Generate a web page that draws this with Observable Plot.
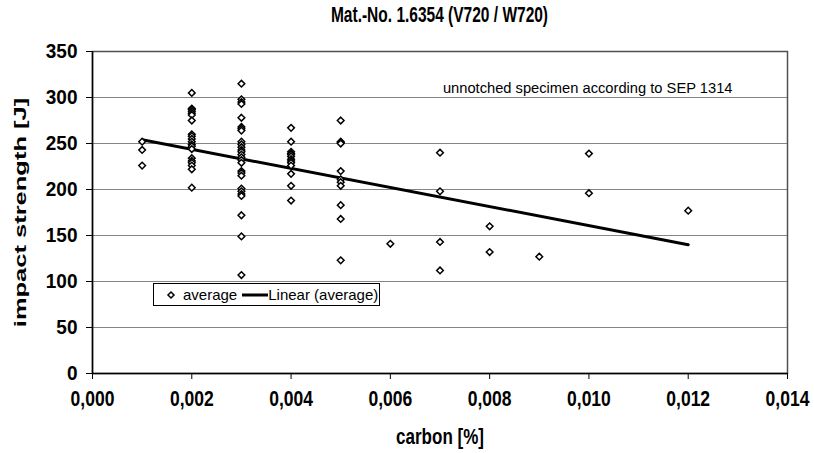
<!DOCTYPE html>
<html><head><meta charset="utf-8">
<script src="https://cdn.jsdelivr.net/npm/d3@7"></script>
<script src="https://cdn.jsdelivr.net/npm/@observablehq/plot@0.6"></script>
<style>
body{margin:0;background:#fff;font-family:"Liberation Sans",Arial,sans-serif;}
#wrap{position:relative;width:814px;height:453px;overflow:hidden;}
#title{height:36px;box-sizing:border-box;padding-top:5px;padding-left:65px;text-align:center;font-weight:bold;font-size:15.5px;line-height:20px;color:#000;}
#title span{display:inline-block;transform:scaleY(1.4);}
#legend{position:absolute;left:153px;top:283px;width:227px;height:23px;border:1.5px solid #000;background:#fff;box-sizing:border-box;font-size:15px;display:flex;align-items:center;color:#000;}
#legend span{white-space:nowrap;}
</style></head>
<body>
<div id="wrap">
  <div id="title"><span id="titleText"></span></div>
  <div id="chart"></div>
  <div id="legend">
    <svg width="14" height="10" style="margin-left:10px"><path d="M7,2 L10,5 L7,8 L4,5 Z" fill="#fff" stroke="#000" stroke-width="1.5"/></svg>
    <span id="lg1" style="margin-left:5px"></span>
    <svg width="26" height="10" style="margin-left:5px"><line x1="0" y1="5" x2="26" y2="5" stroke="#000" stroke-width="3"/></svg>
    <span id="lg2"></span>
  </div>
</div>
<script>
const title = "Mat.-No. 1.6354 (V720 / W720)";
const xLabel = "carbon [%]";
const yLabel = "impact strength [J]";
const annotation = "unnotched specimen according to SEP 1314";
const legendLabels = ["average", "Linear (average)"];

const carbonLevels = [0.001, 0.002, 0.003, 0.004, 0.005, 0.006, 0.007, 0.008, 0.009, 0.010, 0.012];
const strengthByLevel = [
  [252, 243, 226],
  [305, 288, 287, 285, 283, 281, 275, 260, 258, 255, 252, 249, 247, 244, 234, 231, 229, 226, 222, 202],
  [315, 298, 295, 293, 278, 268, 266, 264, 252, 249, 246, 243, 241, 238, 235, 232, 229, 220, 218, 215, 201, 198, 195, 193, 172, 149, 107],
  [267, 252, 241, 239, 238, 236, 233, 231, 229, 226, 217, 204, 188],
  [275, 252, 251, 250, 220, 211, 208, 204, 183, 168, 123],
  [141],
  [240, 198, 143, 112],
  [160, 132],
  [127],
  [239, 196],
  [177]
];
const trendCarbon = [0.001, 0.012];
const trendStrength = [254, 140];
const xTicks = [0, 0.002, 0.004, 0.006, 0.008, 0.010, 0.012, 0.014];
const yTicks = [0, 50, 100, 150, 200, 250, 300, 350];

document.getElementById("titleText").textContent = title;
document.getElementById("lg1").textContent = legendLabels[0];
document.getElementById("lg2").textContent = legendLabels[1];

const data = carbonLevels.flatMap((c, i) => strengthByLevel[i].map(v => ({carbon: c, strength: v})));
const trend = trendCarbon.map((c, i) => ({carbon: c, strength: trendStrength[i]}));

const plot = Plot.plot({
  width: 814, height: 417,
  marginTop: 15, marginBottom: 80, marginLeft: 92, marginRight: 27,
  style: {fontFamily: "'Liberation Sans', Arial, sans-serif", fontSize: "17px", fontWeight: "bold", color: "#000", background: "#fff"},
  x: {domain: [0, 0.014]},
  y: {domain: [0, 350]},
  marks: [
    Plot.gridY(yTicks.filter(t => t > 0 && t < 350), {stroke: "#858585", strokeOpacity: 1, strokeWidth: 1.2}),
    Plot.frame({stroke: "#505050", strokeWidth: 1.5}),
    Plot.ruleX([0], {stroke: "#000", strokeWidth: 1.5}),
    Plot.ruleY([0], {stroke: "#000", strokeWidth: 1.5}),
    Plot.axisX({ticks: xTicks, tickFormat: d => d.toFixed(3).replace(".", ","), tickSize: 6, tickPadding: 11, fontSize: 17.5, label: null}),
    Plot.axisY({ticks: yTicks, tickSize: 6, tickPadding: 9, fontSize: 19, label: null}),
    Plot.text([annotation], {frameAnchor: "top-right", dx: -55, dy: 31, textAnchor: "end", fontSize: 14.7, fontWeight: "normal"}),
    Plot.line(trend, {x: "carbon", y: "strength", stroke: "#000", strokeWidth: 3}),
    Plot.dot(data, {x: "carbon", y: "strength", symbol: "diamond2", r: 3, stroke: "#000", strokeWidth: 1.5, fill: "#fff"}),
    Plot.text([xLabel], {frameAnchor: "bottom", dy: 70, fontSize: 17, fontWeight: "bold"}),
    Plot.text([yLabel], {frameAnchor: "left", dx: -72, rotate: -90, textAnchor: "middle", fontSize: 17, fontWeight: "bold"})
  ]
});
document.getElementById("chart").appendChild(plot);

// stretch the bold texts (tall glyphs as in the reference)
function stretch(el, sx, sy) {
  let t = el.getAttribute("transform") || "";
  const num = /^-?[\d.]+$/;
  const x = el.getAttribute("x"), y = el.getAttribute("y");
  let tx = 0, ty = 0;
  if (x != null && num.test(x)) { tx = +x; el.removeAttribute("x"); }
  if (y != null && num.test(y)) { ty = +y; el.removeAttribute("y"); }
  if (tx || ty) t += ` translate(${tx},${ty})`;
  el.setAttribute("transform", `${t} scale(${sx},${sy})`);
}
const yTickTexts = new Set(yTicks.map(String));
plot.querySelectorAll("text").forEach(el => {
  const txt = el.textContent;
  if (txt === annotation) return;
  if (txt === yLabel) stretch(el, 1.5, 1);
  else if (yTickTexts.has(txt)) stretch(el, 1, 1.1);
  else stretch(el, 1, 1.25);
});
</script>
</body></html>
